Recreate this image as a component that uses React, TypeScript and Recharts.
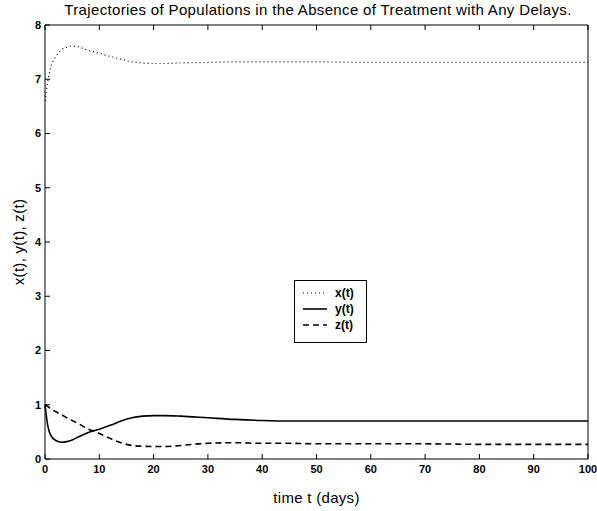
import { LineChart, Line, XAxis, YAxis, Label } from "recharts";

const TIME = [0, 0.5, 1, 2, 3, 4, 5, 6, 8, 10, 12, 14, 16, 18, 20, 22, 25, 30, 35, 40, 45, 50, 60, 70, 80, 90, 100];
const X_VALUES = [6.6, 6.95, 7.2, 7.42, 7.54, 7.59, 7.61, 7.6, 7.53, 7.48, 7.42, 7.37, 7.32, 7.3, 7.29, 7.29, 7.3, 7.31, 7.32, 7.32, 7.32, 7.32, 7.31, 7.31, 7.31, 7.31, 7.31];
const Y_VALUES = [1.0, 0.62, 0.45, 0.34, 0.31, 0.32, 0.35, 0.4, 0.49, 0.55, 0.62, 0.7, 0.76, 0.79, 0.8, 0.8, 0.79, 0.76, 0.73, 0.71, 0.7, 0.7, 0.7, 0.7, 0.7, 0.7, 0.7];
const Z_VALUES = [1.0, 0.97, 0.93, 0.87, 0.82, 0.76, 0.71, 0.66, 0.55, 0.47, 0.38, 0.3, 0.25, 0.235, 0.23, 0.23, 0.25, 0.29, 0.3, 0.29, 0.29, 0.28, 0.28, 0.28, 0.27, 0.27, 0.27];

const X_TICKS = [0, 10, 20, 30, 40, 50, 60, 70, 80, 90, 100];
const Y_TICKS = [0, 1, 2, 3, 4, 5, 6, 7, 8];

const SERIES = [
  { key: "x", label: "x(t)", dash: "1 3", width: 1.2 },
  { key: "y", label: "y(t)", dash: undefined, width: 1.6 },
  { key: "z", label: "z(t)", dash: "6 4", width: 1.6 },
];

const data = TIME.map((t, i) => ({ t, x: X_VALUES[i], y: Y_VALUES[i], z: Z_VALUES[i] }));

const FONT = "'Liberation Sans', Arial, sans-serif";
const tickStyle = { fill: "#000", fontSize: 11, fontWeight: 700, fontFamily: FONT };
const axisLabelStyle = { fill: "#000", fontSize: 15, fontFamily: FONT, letterSpacing: 0.3 };
const blank = () => "";

function LegendBox() {
  return (
    <div
      style={{
        position: "absolute",
        left: 294,
        top: 280,
        width: 73,
        height: 63,
        boxSizing: "border-box",
        border: "1px solid #000",
        background: "#fff",
        padding: "4px 0 0 6px",
        fontFamily: FONT,
        fontSize: 12,
        fontWeight: 700,
      }}
    >
      {SERIES.map((s) => (
        <div key={s.key} style={{ display: "flex", alignItems: "center", height: 16 }}>
          <svg width={28} height={10}>
            <line x1={2} x2={26} y1={5} y2={5} stroke="#000" strokeWidth={s.width} strokeDasharray={s.dash} />
          </svg>
          <span style={{ marginLeft: 6 }}>{s.label}</span>
        </div>
      ))}
    </div>
  );
}

export default function App() {
  return (
    <div style={{ position: "absolute", left: 0, top: 0, width: 597, height: 511, background: "#fff", fontFamily: FONT }}>
      <div
        style={{
          position: "absolute",
          top: 1,
          left: 0,
          width: 636,
          textAlign: "center",
          fontSize: 15,
          letterSpacing: 0.35,
          color: "#000",
        }}
      >
        Trajectories of Populations in the Absence of Treatment with Any Delays.
      </div>
      <LineChart width={597} height={511} data={data} margin={{ top: 24, right: 8, bottom: 0, left: 0 }}>
        <XAxis
          dataKey="t"
          type="number"
          domain={[0, 100]}
          ticks={X_TICKS}
          tickSize={-5}
          tickMargin={11}
          tick={tickStyle}
          stroke="#000"
          height={52}
          interval={0}
        >
          <Label value="time t (days)" position="insideBottom" offset={8} style={axisLabelStyle} />
        </XAxis>
        <XAxis xAxisId="top" dataKey="t" type="number" orientation="top" domain={[0, 100]} ticks={X_TICKS} tickSize={-5} tickFormatter={blank} stroke="#000" height={1} />
        <YAxis
          type="number"
          domain={[0, 8]}
          ticks={Y_TICKS}
          tickSize={-5}
          tickMargin={9}
          tick={tickStyle}
          stroke="#000"
          width={45}
          interval={0}
        >
          <Label value="x(t), y(t), z(t)" angle={-90} position="insideLeft" offset={19} style={{ ...axisLabelStyle, textAnchor: "middle" }} />
        </YAxis>
        <YAxis yAxisId="right" orientation="right" type="number" domain={[0, 8]} ticks={Y_TICKS} tickSize={-5} tickFormatter={blank} stroke="#000" width={1} />
        {SERIES.map((s) => (
          <Line
            key={s.key}
            dataKey={s.key}
            type="monotone"
            stroke="#000"
            strokeWidth={s.width}
            strokeDasharray={s.dash}
            dot={false}
            isAnimationActive={false}
          />
        ))}
      </LineChart>
      <LegendBox />
    </div>
  );
}
